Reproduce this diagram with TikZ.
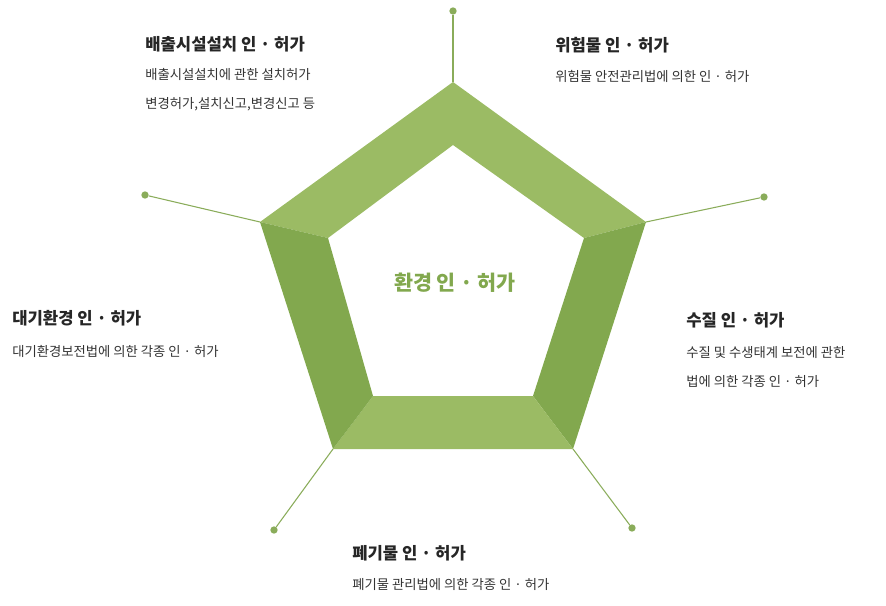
\documentclass[tikz,border=0pt]{standalone}
\usepackage{fontspec}
\setmainfont{Noto Sans CJK KR}
\begin{document}
\begin{tikzpicture}[x=0.75pt,y=-0.75pt,
  light/.style={fill=lgreen,draw=none},
  dark/.style={fill=dgreen,draw=none},
  spoke/.style={draw=sgreen,line width=0.8pt},
  dotn/.style={circle,fill=sgreen,inner sep=0pt,minimum size=5.5pt},
  ttl/.style={anchor=west,font=\fontsize{12.5}{15}\selectfont\bfseries,text=black!85,inner sep=0pt},
  bdy/.style={anchor=west,font=\fontsize{10}{22}\selectfont,text=black!80,inner sep=0pt,align=left}]
\definecolor{lgreen}{HTML}{9BBB64}
\definecolor{dgreen}{HTML}{82A84E}
\definecolor{sgreen}{HTML}{8AAC5A}
\useasboundingbox (0,0) rectangle (886,606);
\coordinate (T) at (453,82); \coordinate (R) at (646,222); \coordinate (BR) at (573,449);
\coordinate (BL) at (333,449); \coordinate (L) at (260,222);
\coordinate (t) at (453,145); \coordinate (r) at (584,238); \coordinate (br) at (533,396);
\coordinate (bl) at (373,396); \coordinate (l) at (328,238);
\node[dotn] (d1) at (453,11) {};
\node[dotn] (d2) at (764,197) {};
\node[dotn] (d3) at (632,528) {};
\node[dotn] (d4) at (274,530) {};
\node[dotn] (d5) at (145,195) {};
\draw[spoke] (T) -- (d1); \draw[spoke] (R) -- (d2); \draw[spoke] (BR) -- (d3);
\draw[spoke] (BL) -- (d4); \draw[spoke] (L) -- (d5);
\fill[light] (L) -- (T) -- (t) -- (l) -- cycle;
\fill[light] (T) -- (R) -- (r) -- (t) -- cycle;
\fill[dark] (R) -- (BR) -- (br) -- (r) -- cycle;
\fill[light] (BR) -- (BL) -- (bl) -- (br) -- cycle;
\fill[dark] (BL) -- (L) -- (l) -- (bl) -- cycle;
\node[font=\fontsize{15.5}{18}\selectfont\bfseries,text=dgreen] (c) at (455,283) {환경 인 · 허가};
\node[ttl] (a1) at (145,44) {배출시설설치 인 · 허가};
\node[bdy] (a2) at (145,90) {배출시설설치에 관한 설치허가\\변경허가,설치신고,변경신고 등};
\node[ttl] (b1) at (555,45) {위험물 인 · 허가};
\node[bdy] (b2) at (555,76) {위험물 안전관리법에 의한 인 · 허가};
\node[ttl] (e1) at (12,318) {대기환경 인 · 허가};
\node[bdy] (e2) at (12,351) {대기환경보전법에 의한 각종 인 · 허가};
\node[ttl] (f1) at (686,320) {수질 인 · 허가};
\node[bdy] (f2) at (686,367) {수질 및 수생태계 보전에 관한\\법에 의한 각종 인 · 허가};
\node[ttl] (g1) at (352,553) {폐기물 인 · 허가};
\node[bdy] (g2) at (352,585) {폐기물 관리법에 의한 각종 인 · 허가};
\end{tikzpicture}
\end{document}
